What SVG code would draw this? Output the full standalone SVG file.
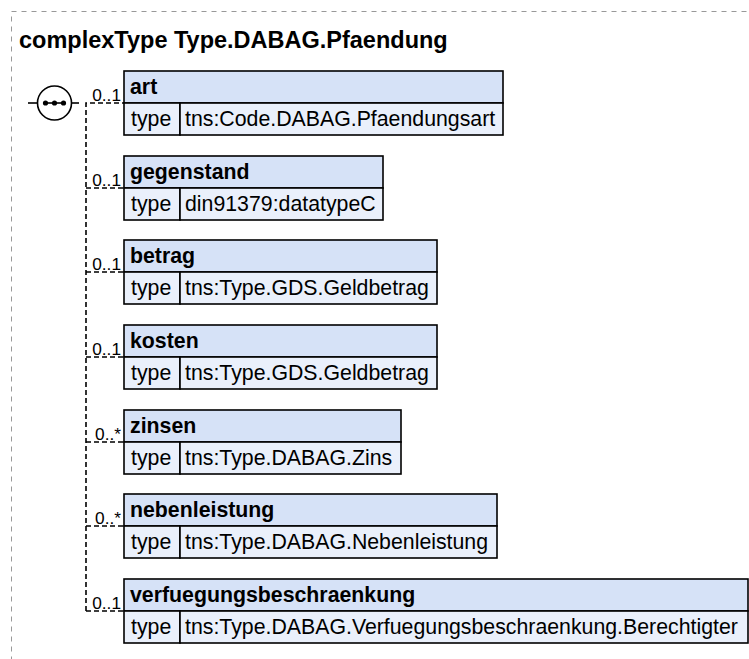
<svg xmlns="http://www.w3.org/2000/svg" width="749" height="659" viewBox="0 0 749 659">
<style>
.frame{fill:none;stroke:#999;stroke-width:1;stroke-dasharray:5,5}
.title{font-family:"Liberation Sans",Arial,sans-serif;font-weight:bold;font-size:23.5px;fill:#000}
.hdr{fill:#d6e2f7;stroke:#000;stroke-width:1.6}
.row{fill:#eaf0fb;stroke:#000;stroke-width:1.6}
.name{font-family:"Liberation Sans",Arial,sans-serif;font-weight:bold;font-size:21.3px;fill:#000}
.txt{font-family:"Liberation Sans",Arial,sans-serif;font-size:21.3px;fill:#000}
.card{font-family:"Liberation Sans",Arial,sans-serif;font-size:17.3px;fill:#000;text-anchor:end}
.conn{fill:none;stroke:#000;stroke-width:1.6;stroke-dasharray:5,3}
.solid{fill:none;stroke:#000;stroke-width:1.6}
</style>
<rect class="frame" x="11.5" y="11.5" width="800" height="700"/>
<text class="title" x="19" y="48">complexType Type.DABAG.Pfaendung</text>

<g id="sequence">
<line class="solid" x1="28" y1="103" x2="37.5" y2="103"/>
<circle cx="54.5" cy="103" r="17" fill="#fff" stroke="#000" stroke-width="1.6"/>
<line class="solid" x1="71.5" y1="103" x2="79" y2="103"/>
<line class="solid" x1="44" y1="103" x2="65" y2="103"/>
<circle cx="45.5" cy="103" r="2.6" fill="#000"/>
<circle cx="54.5" cy="103" r="2.6" fill="#000"/>
<circle cx="63.5" cy="103" r="2.6" fill="#000"/>
</g>

<g id="connectors">
<path class="conn" d="M86,611 V103 H124"/>
<path class="conn" d="M86,188 H124"/>
<path class="conn" d="M86,272 H124"/>
<path class="conn" d="M86,357 H124"/>
<path class="conn" d="M86,442 H124"/>
<path class="conn" d="M86,526 H124"/>
<path class="conn" d="M86,611 H124"/>
<text class="card" x="121" y="101">0..1</text>
<text class="card" x="121" y="186">0..1</text>
<text class="card" x="121" y="270">0..1</text>
<text class="card" x="121" y="355">0..1</text>
<text class="card" x="121" y="440">0..*</text>
<text class="card" x="121" y="524">0..*</text>
<text class="card" x="121" y="609">0..1</text>
</g>

<g id="art">
<rect class="hdr" x="124" y="71" width="379" height="32"/>
<rect class="row" x="124" y="103" width="56" height="32"/>
<rect class="row" x="180" y="103" width="323" height="32"/>
<text class="name" x="130" y="94">art</text>
<text class="txt" x="131" y="126">type</text>
<text class="txt" x="185" y="126">tns:Code.DABAG.Pfaendungsart</text>
</g>

<g id="gegenstand">
<rect class="hdr" x="124" y="156" width="259" height="32"/>
<rect class="row" x="124" y="188" width="56" height="32"/>
<rect class="row" x="180" y="188" width="203" height="32"/>
<text class="name" x="130" y="179">gegenstand</text>
<text class="txt" x="131" y="211">type</text>
<text class="txt" x="185" y="211">din91379:datatypeC</text>
</g>

<g id="betrag">
<rect class="hdr" x="124" y="240" width="313" height="32"/>
<rect class="row" x="124" y="272" width="56" height="32"/>
<rect class="row" x="180" y="272" width="257" height="32"/>
<text class="name" x="130" y="263">betrag</text>
<text class="txt" x="131" y="295">type</text>
<text class="txt" x="185" y="295">tns:Type.GDS.Geldbetrag</text>
</g>

<g id="kosten">
<rect class="hdr" x="124" y="325" width="313" height="32"/>
<rect class="row" x="124" y="357" width="56" height="32"/>
<rect class="row" x="180" y="357" width="257" height="32"/>
<text class="name" x="130" y="348">kosten</text>
<text class="txt" x="131" y="380">type</text>
<text class="txt" x="185" y="380">tns:Type.GDS.Geldbetrag</text>
</g>

<g id="zinsen">
<rect class="hdr" x="124" y="410" width="277" height="32"/>
<rect class="row" x="124" y="442" width="56" height="32"/>
<rect class="row" x="180" y="442" width="221" height="32"/>
<text class="name" x="130" y="433">zinsen</text>
<text class="txt" x="131" y="465">type</text>
<text class="txt" x="185" y="465">tns:Type.DABAG.Zins</text>
</g>

<g id="nebenleistung">
<rect class="hdr" x="124" y="494" width="373" height="32"/>
<rect class="row" x="124" y="526" width="56" height="32"/>
<rect class="row" x="180" y="526" width="317" height="32"/>
<text class="name" x="130" y="517">nebenleistung</text>
<text class="txt" x="131" y="549">type</text>
<text class="txt" x="185" y="549">tns:Type.DABAG.Nebenleistung</text>
</g>

<g id="verfuegungsbeschraenkung">
<rect class="hdr" x="124" y="579" width="624" height="32"/>
<rect class="row" x="124" y="611" width="56" height="32"/>
<rect class="row" x="180" y="611" width="568" height="32"/>
<text class="name" x="130" y="602">verfuegungsbeschraenkung</text>
<text class="txt" x="131" y="634">type</text>
<text class="txt" x="185" y="634">tns:Type.DABAG.Verfuegungsbeschraenkung.Berechtigter</text>
</g>
</svg>
